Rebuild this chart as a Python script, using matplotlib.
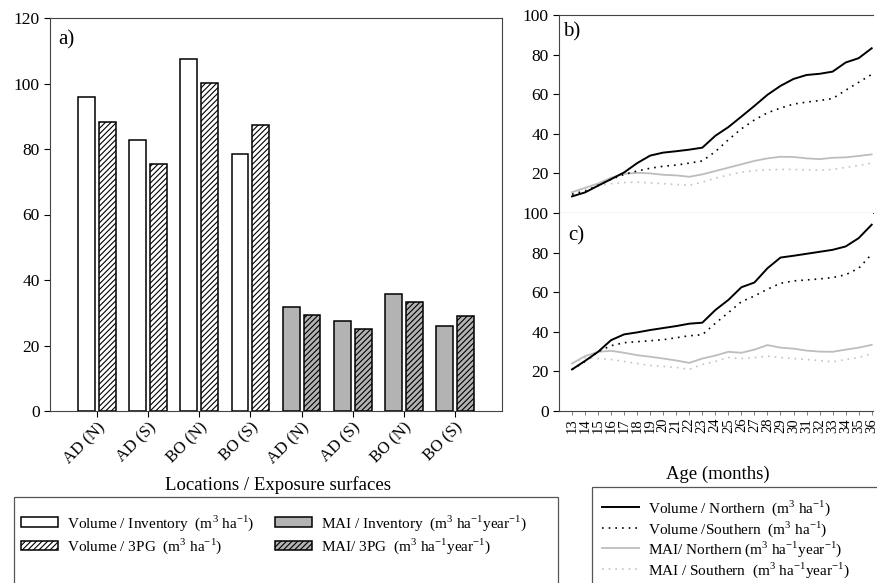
import numpy as np
import matplotlib
matplotlib.use('Agg')
import matplotlib.pyplot as plt
from matplotlib.patches import Rectangle
from matplotlib.lines import Line2D

plt.rcParams['font.family'] = ['Liberation Serif', 'DejaVu Serif']
plt.rcParams['mathtext.fontset'] = 'custom'
plt.rcParams['mathtext.rm'] = 'Liberation Serif'
plt.rcParams['hatch.linewidth'] = 0.8

# a) volumen y MAI por sitio / exposicion
sitios = ['AD (N)', 'AD (S)', 'BO (N)', 'BO (S)', 'AD (N)', 'AD (S)', 'BO (N)', 'BO (S)']
vol_inventario = [95.8, 82.6, 107.6, 78.6]
vol_3pg = [88.3, 75.5, 100.3, 87.4]
mai_inventario = [31.8, 27.4, 35.7, 26.0]
mai_3pg = [29.4, 25.1, 33.3, 29.0]

# b) y c) evolucion con la edad
meses = list(range(13, 37))
b_vol_norte = [8.4, 10.4, 13.8, 17.1, 20.5, 25.2, 29.0, 30.5, 31.2, 32.0, 33.0, 39.0, 43.4,
               48.7, 54.1, 59.7, 64.2, 67.7, 69.7, 70.3, 71.4, 76.0, 78.2, 83.2]
b_vol_sur = [9.5, 11.0, 14.0, 17.0, 19.5, 21.2, 22.6, 23.6, 24.2, 25.2, 26.3, 31.0, 37.0,
             42.5, 47.0, 50.6, 53.0, 55.0, 56.0, 56.8, 57.8, 62.0, 66.0, 70.0]
b_mai_norte = [10.5, 12.7, 14.9, 17.8, 19.8, 20.3, 20.0, 19.3, 19.0, 18.3, 19.5, 21.2,
               22.9, 24.6, 26.3, 27.6, 28.4, 28.3, 27.6, 27.2, 27.9, 28.1, 28.8, 29.6]
b_mai_sur = [10.0, 12.0, 13.8, 14.8, 15.4, 15.6, 15.2, 14.8, 14.4, 14.0, 15.5, 17.6,
             19.2, 20.6, 21.4, 21.8, 22.0, 22.0, 21.8, 21.6, 22.0, 23.0, 24.0, 25.2]
c_vol_norte = [21.0, 25.3, 29.9, 35.8, 38.7, 39.7, 40.9, 41.9, 42.9, 44.1, 44.6, 51.0, 56.1,
               62.5, 64.9, 72.1, 77.5, 78.4, 79.4, 80.4, 81.4, 83.1, 87.3, 94.1]
c_vol_sur = [21.0, 25.0, 30.0, 33.0, 34.5, 35.0, 35.5, 36.0, 37.0, 38.0, 38.5, 44.3, 49.7,
             55.2, 58.1, 61.5, 64.5, 65.7, 66.2, 66.7, 67.4, 68.8, 72.1, 79.2]
c_mai_norte = [24.0, 27.7, 29.9, 30.4, 29.4, 28.2, 27.4, 26.5, 25.5, 24.3, 26.5, 28.0,
               29.9, 29.4, 31.0, 33.3, 32.0, 31.5, 30.5, 30.0, 29.9, 31.0, 32.0, 33.4]
c_mai_sur = [24.0, 27.0, 26.5, 26.0, 25.0, 24.0, 23.0, 22.5, 22.0, 21.0, 23.5, 25.0,
             27.0, 26.5, 27.0, 27.7, 27.0, 26.5, 26.0, 25.5, 24.8, 26.0, 27.0, 29.0]

W, H = 877, 583
fig = plt.figure(figsize=(W / 100, H / 100), dpi=100)


def rect(x0, y0, x1, y1):
    return [x0 / W, 1 - y1 / H, (x1 - x0) / W, (y1 - y0) / H]


ax_a = fig.add_axes(rect(50, 18, 502, 411))
ax_b = fig.add_axes(rect(559, 15, 873, 213))
ax_c = fig.add_axes(rect(559, 213, 873, 411))

gris = '#b3b3b3'
ancho = 0.33
x = np.arange(len(sitios))
inv = vol_inventario + mai_inventario
pg = vol_3pg + mai_3pg
colores = ['white'] * 4 + [gris] * 4
b1 = ax_a.bar(x - 0.205, inv, ancho, color=colores, edgecolor='black', linewidth=1.1)
b2 = ax_a.bar(x + 0.205, pg, ancho, color=colores, edgecolor='black', linewidth=1.1, hatch='//////')
ax_a.set_xlim(-0.92, 7.92)
ax_a.set_ylim(0, 120)
ax_a.set_yticks(range(0, 121, 20))
ax_a.set_xticks(x)
ax_a.set_xticklabels(sitios, rotation=45, ha='right', rotation_mode='anchor', fontsize=12)
ax_a.tick_params(axis='y', labelsize=12.5, length=4, width=0.8)
ax_a.tick_params(axis='x', length=4, width=0.8, pad=2)
for s in ax_a.spines.values():
    s.set_linewidth(0.8)
    s.set_color('#444444')
ax_a.text(0.018, 0.944, 'a)', transform=ax_a.transAxes, fontsize=15, va='center')

linea = dict(color='black', lw=1.4)
punteada = dict(color='black', lw=1.2, ls=(0, (1, 3)))
linea_g = dict(color='#bdbdbd', lw=1.3)
punteada_g = dict(color='#c4c4c4', lw=1.2, ls=(0, (1, 3)))

for ax, vn, vs, mn, ms in [(ax_b, b_vol_norte, b_vol_sur, b_mai_norte, b_mai_sur),
                           (ax_c, c_vol_norte, c_vol_sur, c_mai_norte, c_mai_sur)]:
    ax.plot(meses, mn, **linea_g)
    ax.plot(meses, ms, **punteada_g)
    ax.plot(meses, vs, **punteada)
    ax.plot(meses, vn, **linea)
    ax.set_xlim(12, 36.1)
    ax.set_ylim(0, 100)
    ax.set_xticks(meses)
    ax.spines['right'].set_visible(False)
    for s in ax.spines.values():
        s.set_linewidth(0.8)
        s.set_color('#444444')
    ax.tick_params(axis='y', labelsize=12.5, length=4, width=0.8)
    ax.tick_params(axis='x', length=3, width=0.6, color='#666666')

ax_b.set_yticks(range(20, 101, 20))
ax_b.set_xticklabels([])
ax_c.set_yticks(range(0, 101, 20))
ax_c.spines['top'].set_visible(False)
ax_c.set_xticklabels([str(m) for m in meses], rotation=90, fontsize=10.5)
ax_c.tick_params(axis='x', pad=2)
ax_b.text(0.013, 0.914, 'b)', transform=ax_b.transAxes, fontsize=15, va='center')
ax_c.text(0.029, 0.884, 'c)', transform=ax_c.transAxes, fontsize=15, va='center')

fig.text(278 / W, 1 - 485 / H, 'Locations / Exposure surfaces', fontsize=13.5, ha='center', va='center')
fig.text(718 / W, 1 - 474 / H, 'Age (months)', fontsize=13.5, ha='center', va='center')

# marcos de las leyendas
for x0, y0, x1, y1 in [(14, 497, 558, 600), (592, 487, 890, 600)]:
    fig.add_artist(Rectangle((x0 / W, 1 - y1 / H), (x1 - x0) / W, (y1 - y0) / H,
                             transform=fig.transFigure, fill=False, edgecolor='#555555', lw=0.9))

u_vol = r'(m$^3$ ha$^{-1}$)'
u_mai = r'(m$^3$ ha$^{-1}$year$^{-1}$)'
opts = dict(loc='upper left', frameon=False, fontsize=11, borderpad=0, borderaxespad=0,
            handletextpad=0.6, labelspacing=0.25)
fig.legend([b1[0], b2[0]], ['Volume / Inventory  ' + u_vol, 'Volume / 3PG  ' + u_vol],
           bbox_to_anchor=(21 / W, 1 - 513 / H), handlelength=2.4, handleheight=0.6, **opts)
fig.legend([b1[4], b2[4]], ['MAI / Inventory  ' + u_mai, 'MAI/ 3PG  ' + u_mai],
           bbox_to_anchor=(275 / W, 1 - 513 / H), handlelength=2.4, handleheight=0.6, **opts)

opts_r = dict(opts, labelspacing=0.1)
h_vol = [Line2D([], [], **linea), Line2D([], [], **punteada)]
h_mai = [Line2D([], [], **linea_g), Line2D([], [], **punteada_g)]
fig.legend(h_vol, ['Volume / Northern  ' + u_vol, 'Volume /Southern  ' + u_vol],
           bbox_to_anchor=(602 / W, 1 - 498 / H), handlelength=2.4, **opts_r)
fig.legend(h_mai, ['MAI/ Northern ' + u_mai, 'MAI / Southern  ' + u_mai],
           bbox_to_anchor=(602 / W, 1 - 539 / H), handlelength=2.4, **opts_r)

fig.savefig('out.png', dpi=100)
